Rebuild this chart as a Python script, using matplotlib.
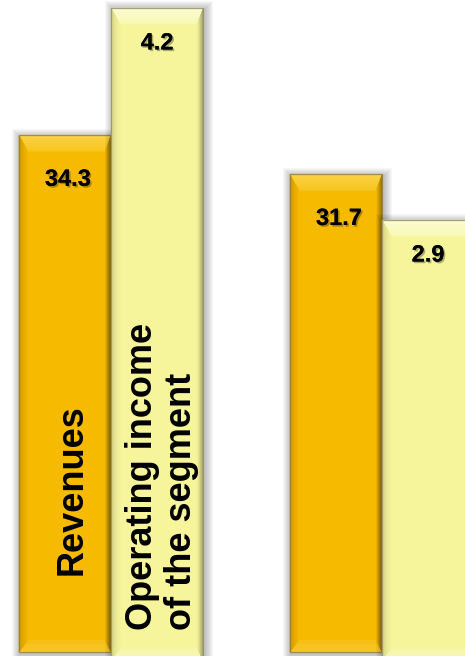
import numpy as np
import matplotlib
matplotlib.use("Agg")
import matplotlib.pyplot as plt
from matplotlib.patches import Polygon, Rectangle
from matplotlib.transforms import IdentityTransform
from matplotlib.colors import to_rgb
import matplotlib.patheffects as pe

# ---- data ----
series_names = ["Revenues", "Operating income\nof the segment"]
revenues = [34.3, 31.7]
operating_income = [4.2, 2.9]

# ---- figure ----
W, H, DPI = 465, 656, 100
fig = plt.figure(figsize=(W / DPI, H / DPI), dpi=DPI)
fig.patch.set_facecolor("white")
ax = fig.add_axes([0, 0, 1, 1])
ax2 = ax.twinx()
for a in (ax, ax2):
    a.set_axis_off()

x = np.arange(len(revenues))
width = 0.34
ax.set_xlim(-0.41, 1.306)
ax.set_ylim(-0.262, 43.28)      # revenue scale
ax2.set_ylim(0.227, 4.249)      # operating income scale
op_axis_min = 0.2               # operating bars start at the axis minimum

FONT = "Liberation Sans"

REV = dict(base="#F6BA00", top="#FBD44A", left="#CF9500", right="#8F6A00",
           bottom="#F8C830", edge="#8E7E40")
OPI = dict(base="#F6F59C", top="#FDFDD6", left="#D6D386", right="#9A975F",
           bottom="#F9F9C0", edge="#8E8C66")


def mix(c1, c2, t):
    a = np.array(to_rgb(c1))
    b = np.array(to_rgb(c2))
    return tuple(a + (b - a) * t)


def bevel_bar(axis, xc, top_val, bottom_val, w, st, n=10):
    """Draw a bar with soft shadow and bevelled edges in pixel space."""
    x0, y0 = axis.transData.transform((xc - w / 2, bottom_val))
    x1, y1 = axis.transData.transform((xc + w / 2, top_val))
    idt = IdentityTransform()

    # soft outer shadow
    for k in range(8, 0, -1):
        axis.add_patch(Rectangle((x0 - k + 1.5, y0 - k - 1.5),
                                 (x1 - x0) + 2 * k, (y1 - y0) + 2 * k,
                                 transform=idt, facecolor="black",
                                 edgecolor="none", alpha=0.03))

    # body
    axis.add_patch(Rectangle((x0, y0), x1 - x0, y1 - y0, transform=idt,
                             facecolor=st["base"], edgecolor="none"))

    t, l, r, b = 16.0, 9.0, 6.0, 12.0

    def strips(fn, edge_col, reach):
        for i in range(n):
            f0, f1 = i / n, (i + 1) / n
            pts = fn(f0) + fn(f1)[::-1]
            col = mix(edge_col, st["base"], reach * (f0 + f1) / 2)
            axis.add_patch(Polygon(pts, closed=True, transform=idt,
                                   facecolor=col, edgecolor=col, lw=0.3))

    # top band
    strips(lambda f: [(x0 + l * f, y1 - t * f), (x1 - r * f, y1 - t * f)],
           st["top"], 0.55)
    # bottom band
    strips(lambda f: [(x0 + l * f, y0 + b * f), (x1 - r * f, y0 + b * f)],
           st["bottom"], 0.6)
    # left band
    strips(lambda f: [(x0 + l * f, y0 + b * f), (x0 + l * f, y1 - t * f)],
           st["left"], 1.0)
    # right band
    strips(lambda f: [(x1 - r * f, y0 + b * f), (x1 - r * f, y1 - t * f)],
           st["right"], 1.0)

    # thin outline
    axis.add_patch(Rectangle((x0, y0), x1 - x0, y1 - y0, transform=idt,
                             facecolor="none", edgecolor=st["edge"], lw=0.9,
                             alpha=0.8))


# invisible bar containers keep the values on the library's scales
rev_bars = ax.bar(x - width / 2, revenues, width, color="none")
op_bars = ax2.bar(x + width / 2, [v - op_axis_min for v in operating_income],
                  width, bottom=op_axis_min, color="none")

for xc, v in zip(x - width / 2, revenues):
    bevel_bar(ax, xc, v, 0, width, REV)
for xc, v in zip(x + width / 2, operating_income):
    bevel_bar(ax2, xc, v, op_axis_min, width, OPI)

shadow = [pe.withSimplePatchShadow(offset=(1.2, -1.2), shadow_rgbFace="black",
                                   alpha=0.3), pe.Normal()]

# value labels inside the top of each bar
for xc, v in zip(x - width / 2, revenues):
    ax.annotate(f"{v:.1f}", (xc, v), xytext=(3, -44), textcoords="offset pixels",
                ha="center", va="center", fontsize=17, fontweight="bold",
                family=FONT, color="black", path_effects=shadow,
                annotation_clip=False)
for xc, v in zip(x + width / 2, operating_income):
    ax2.annotate(f"{v:.1f}", (xc, v), xytext=(0, -35), textcoords="offset pixels",
                 ha="center", va="center", fontsize=17, fontweight="bold",
                 family=FONT, color="black", path_effects=shadow,
                 annotation_clip=False)

# series names written vertically inside the first group's bars
ax.annotate(series_names[0], (x[0] - width / 2, 0), xytext=(7, 77),
            textcoords="offset pixels", rotation=90, rotation_mode="anchor",
            ha="left", va="center", fontsize=26, fontweight="bold",
            family=FONT, color="black", annotation_clip=False)
ax2.annotate(series_names[1], (x[0] + width / 2, op_axis_min), xytext=(5, 30),
             textcoords="offset pixels", rotation=90, rotation_mode="anchor",
             ha="left", va="center", multialignment="left", linespacing=1.15,
             fontsize=26, fontweight="bold", family=FONT, color="black",
             annotation_clip=False)

fig.savefig("out.png", dpi=DPI, facecolor="white")
